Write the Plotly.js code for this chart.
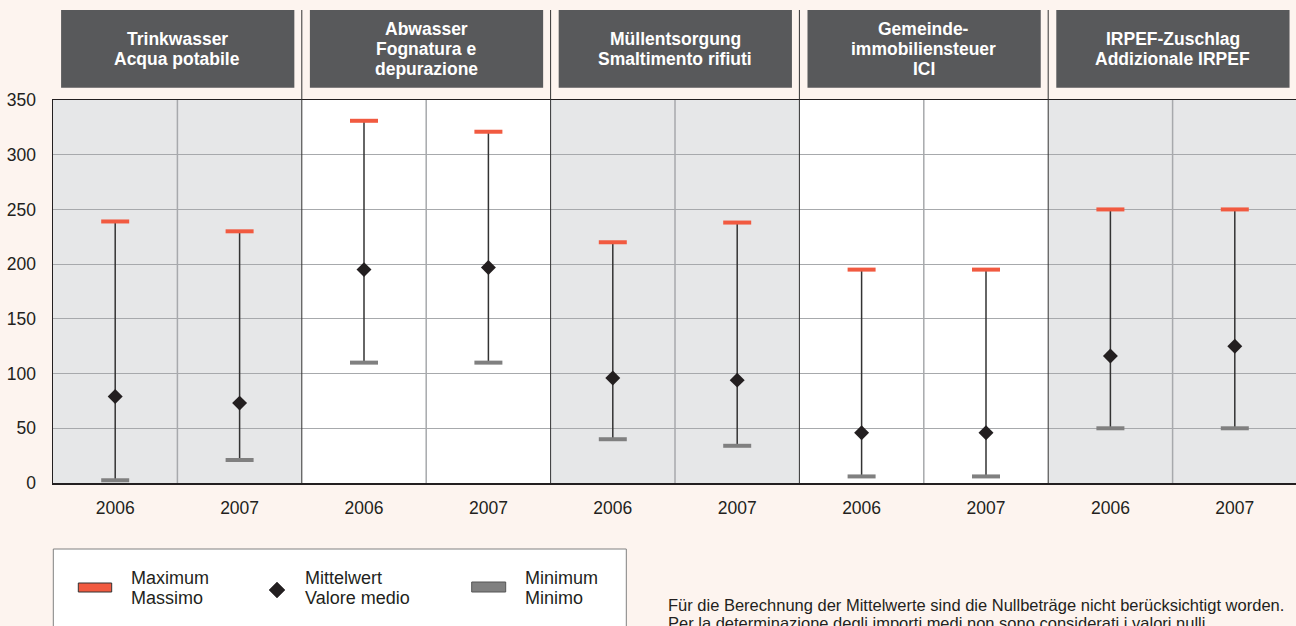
<!DOCTYPE html>
<html>
<head>
<meta charset="utf-8">
<script src="https://cdn.plot.ly/plotly-3.0.1.min.js"></script>
<style>
html,body{margin:0;padding:0;background:#fdf4ef;overflow:hidden;}
#chart{width:1296px;height:626px;}
</style>
</head>
<body>
<div id="chart"></div>
<script>
// ---- data ----
var groupTitles = [
  ["Trinkwasser", "Acqua potabile"],
  ["Abwasser", "Fognatura e", "depurazione"],
  ["Müllentsorgung", "Smaltimento rifiuti"],
  ["Gemeinde-", "immobiliensteuer", "ICI"],
  ["IRPEF-Zuschlag", "Addizionale IRPEF"]
];
var years = ["2006", "2007", "2006", "2007", "2006", "2007", "2006", "2007", "2006", "2007"];
var maxVals  = [239, 230, 331, 321, 220, 238, 195, 195, 250, 250];
var meanVals = [79, 73, 195, 197, 96, 94, 46, 46, 116, 125];
var minVals  = [2.5, 21, 110, 110, 40, 34, 6, 6, 50, 50];
var yTicks = [0, 50, 100, 150, 200, 250, 300, 350];
var legendLines = [
  ["Maximum", "Massimo"],
  ["Mittelwert", "Valore medio"],
  ["Minimum", "Minimo"]
];
var noteLines = [
  "Für die Berechnung der Mittelwerte sind die Nullbeträge nicht berücksichtigt worden.",
  "Per la determinazione degli importi medi non sono considerati i valori nulli."
];

// ---- layout helpers ----
var L = 53, T = 100, W = 1243, H = 383;
function xp(px) { return (px - L) / W; }
function yp(py) { return (T + H - py) / H; }
var FONT = "Liberation Sans, Arial, Helvetica, sans-serif";
var TXT = "#231f20";

var idx = years.map(function (_, i) { return i; });

var traces = [
  {
    type: "scatter", mode: "markers", x: idx, y: meanVals, hoverinfo: "skip",
    marker: { symbol: "diamond", size: 11.5, color: TXT },
    error_y: {
      type: "data", symmetric: false,
      array: maxVals.map(function (v, i) { return v - meanVals[i]; }),
      arrayminus: minVals.map(function (v, i) { return meanVals[i] - v; }),
      width: 0, thickness: 1.5, color: "#333333"
    },
    cliponaxis: false
  },
  {
    type: "scatter", mode: "markers", x: idx, y: maxVals, hoverinfo: "skip",
    marker: { symbol: "line-ew", size: 20, line: { width: 4, color: "#f15a40" } },
    cliponaxis: false
  },
  {
    type: "scatter", mode: "markers", x: idx, y: minVals, hoverinfo: "skip",
    marker: { symbol: "line-ew", size: 20, line: { width: 4, color: "#808080" } },
    cliponaxis: false
  }
];

var shapes = [];
var annotations = [];

groupTitles.forEach(function (lines, g) {
  var x0 = 2 * g - 0.5, x1 = 2 * g + 1.5;
  if (g % 2 === 0) {
    shapes.push({ type: "rect", xref: "x", yref: "paper", x0: x0, x1: x1, y0: 0, y1: 1,
      fillcolor: "#e6e7e8", line: { width: 0 }, layer: "below" });
  }
  shapes.push({ type: "line", xref: "x", yref: "paper", x0: 2 * g + 0.5, x1: 2 * g + 0.5, y0: 0, y1: 1,
    line: { color: "#a7a9ac", width: 1.5 }, layer: "between" });
  if (g > 0) {
    shapes.push({ type: "line", xref: "x", yref: "paper", x0: x0, x1: x0, y0: 0, y1: yp(10),
      line: { color: "#333333", width: 1 }, layer: "above" });
  }
  shapes.push({ type: "rect", xref: "x", yref: "paper", x0: x0 + 0.065, x1: x1 - 0.06,
    y0: yp(87.7), y1: yp(10), fillcolor: "#58595b", line: { width: 0 }, layer: "above" });
  var n = lines.length;
  lines.forEach(function (t, i) {
    annotations.push({ xref: "x", yref: "paper", x: 2 * g + 0.5, y: yp(48.8 + (i - (n - 1) / 2) * 20),
      text: "<b>" + t + "</b>", showarrow: false, xanchor: "center", yanchor: "middle",
      font: { family: FONT, size: 17.5, color: "#ffffff" } });
  });
});

// legend box
shapes.push({ type: "rect", xref: "paper", yref: "paper", x0: xp(53.3), x1: xp(626.3), y0: yp(660), y1: yp(549),
  fillcolor: "#ffffff", line: { color: "#808080", width: 1 } });
shapes.push({ type: "rect", xref: "paper", yref: "paper", x0: xp(78.3), x1: xp(111.7), y0: yp(592), y1: yp(583),
  fillcolor: "#f15a40", line: { color: "#333333", width: 1 } });
shapes.push({ type: "path", xref: "paper", yref: "paper",
  path: "M " + xp(277) + " " + yp(582) + " L " + xp(285) + " " + yp(590) + " L " + xp(277) + " " + yp(598) +
        " L " + xp(269) + " " + yp(590) + " Z",
  fillcolor: TXT, line: { color: TXT, width: 0.5 } });
shapes.push({ type: "rect", xref: "paper", yref: "paper", x0: xp(471.7), x1: xp(505.7), y0: yp(592), y1: yp(582),
  fillcolor: "#808080", line: { color: "#555555", width: 1 } });
var legendX = [128.5, 302.5, 523];
legendLines.forEach(function (lines, k) {
  lines.forEach(function (t, i) {
    annotations.push({ xref: "paper", yref: "paper", x: xp(legendX[k]), y: yp(578 + i * 20),
      text: t, showarrow: false, xanchor: "left", yanchor: "middle",
      font: { family: FONT, size: 18, color: TXT } });
  });
});
noteLines.forEach(function (t, i) {
  annotations.push({ xref: "paper", yref: "paper", x: xp(666), y: yp(605 + i * 17.5),
    text: t, showarrow: false, xanchor: "left", yanchor: "middle",
    font: { family: FONT, size: 16.5, color: TXT } });
});

var layout = {
  width: 1296, height: 626,
  margin: { l: L, r: 1296 - L - W, t: T, b: 626 - T - H, pad: 0 },
  paper_bgcolor: "#fdf4ef", plot_bgcolor: "#ffffff",
  showlegend: false,
  font: { family: FONT, color: TXT },
  xaxis: {
    range: [-0.5, -0.5 + W / 124.4], tickvals: idx, ticktext: years,
    showgrid: false, zeroline: false, showline: true, mirror: true,
    linecolor: TXT, linewidth: 1.5, ticks: "", ticklabelstandoff: 8,
    tickfont: { family: FONT, size: 17.5, color: TXT }, fixedrange: true
  },
  yaxis: {
    range: [0, 350], tickvals: yTicks, showgrid: true, gridcolor: "#a7a9ac", gridwidth: 1,
    zeroline: false, showline: true, linecolor: TXT, linewidth: 1.5, ticks: "",
    ticklabelstandoff: 12, tickfont: { family: FONT, size: 17.5, color: TXT }, fixedrange: true
  },
  shapes: shapes,
  annotations: annotations
};

Plotly.newPlot("chart", traces, layout, { displayModeBar: false, staticPlot: true });
</script>
</body>
</html>
